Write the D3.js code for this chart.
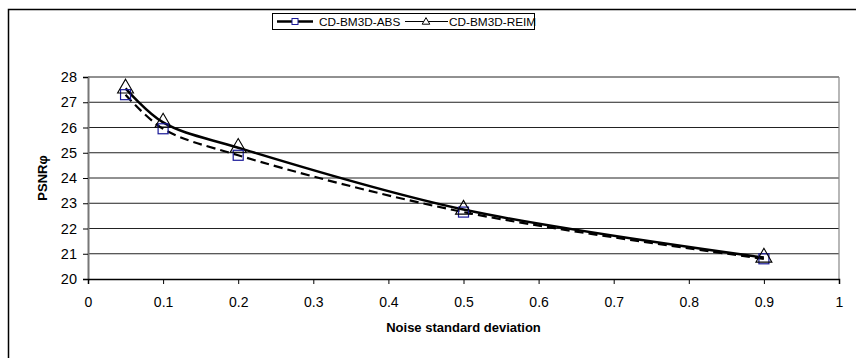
<!DOCTYPE html>
<html><head><meta charset="utf-8">
<script src="https://cdn.jsdelivr.net/npm/d3@7"></script>
<style>body{margin:0;background:#fff;}svg{display:block;font-family:"Liberation Sans",Arial,sans-serif;}</style>
</head><body><svg id="c" width="856" height="358"></svg>
<script>
const xValues = [0.05, 0.1, 0.2, 0.5, 0.9];
const absValues = [27.3, 25.95, 24.9, 22.65, 20.8];
const reimValues = [27.55, 26.2, 25.2, 22.75, 20.85];
const seriesNames = ["CD-BM3D-ABS", "CD-BM3D-REIM"];
const xTicks = [0, 0.1, 0.2, 0.3, 0.4, 0.5, 0.6, 0.7, 0.8, 0.9, 1];
const yTicks = [20, 21, 22, 23, 24, 25, 26, 27, 28];

const svg = d3.select("#c");
const x = d3.scaleLinear().domain([0, 1]).range([88, 839]);
const y = d3.scaleLinear().domain([20, 28]).range([279, 77]);

// outer frame
svg.append("path").attr("d", "M8.5,358 V9.5 H856").attr("fill", "none").attr("stroke", "#000").attr("stroke-width", 1.5);

// gridlines
svg.append("g").selectAll("line").data(yTicks.slice(1)).join("line")
  .attr("x1", x(0)).attr("x2", x(1)).attr("y1", d => y(d)).attr("y2", d => y(d))
  .attr("stroke", "#222").attr("stroke-width", 1);
// right border
svg.append("line").attr("x1", x(1)).attr("x2", x(1)).attr("y1", y(28)).attr("y2", y(20))
  .attr("stroke", "#888").attr("stroke-width", 1.2);

// axes
const yAxis = d3.axisLeft(y).tickValues(yTicks).tickSize(5).tickPadding(6).tickFormat(d3.format("d"));
const gy = svg.append("g").attr("transform", `translate(${x(0)},0)`).call(yAxis);
gy.select(".domain").attr("stroke", "#777").attr("stroke-width", 2);
gy.selectAll(".tick line").attr("stroke", "#000");
gy.selectAll("text").attr("font-size", 14.5).attr("fill", "#000").style("font-family", "Liberation Sans, Arial, sans-serif");

const xAxis = d3.axisBottom(x).tickValues(xTicks).tickSize(5).tickPadding(13).tickFormat(d => d === 0 || d === 1 ? String(d) : d.toFixed(1));
const gx = svg.append("g").attr("transform", `translate(0,${y(20)})`).call(xAxis);
gx.select(".domain").attr("stroke", "#000").attr("stroke-width", 1.5);
gx.selectAll(".tick line").attr("stroke", "#000");
gx.selectAll("text").attr("font-size", 14).attr("fill", "#000").style("font-family", "Liberation Sans, Arial, sans-serif");

// titles
svg.append("text").attr("x", (x(0) + x(1)) / 2).attr("y", 332).attr("text-anchor", "middle")
  .attr("font-size", 13).attr("font-weight", "bold").text("Noise standard deviation");
svg.append("text").attr("transform", `translate(47,${(y(20) + y(28)) / 2}) rotate(-90)`).attr("text-anchor", "middle")
  .attr("font-size", 13).attr("font-weight", "bold").text("PSNRφ");

// lines
const line = d3.line().curve(d3.curveCatmullRom.alpha(0.5)).x(d => x(d[0])).y(d => y(d[1]));
const absData = xValues.map((v, i) => [v, absValues[i]]);
const reimData = xValues.map((v, i) => [v, reimValues[i]]);
svg.append("path").attr("d", line(absData)).attr("fill", "none").attr("stroke", "#000")
  .attr("stroke-width", 2.2).attr("stroke-dasharray", "9,5");
svg.append("path").attr("d", line(reimData)).attr("fill", "none").attr("stroke", "#000").attr("stroke-width", 2.5);

// markers
svg.append("g").selectAll("rect").data(absData).join("rect")
  .attr("x", d => x(d[0]) - 5).attr("y", d => y(d[1]) - 5).attr("width", 10).attr("height", 10)
  .attr("fill", "none").attr("stroke", "#1a1a99").attr("stroke-width", 1.2);
const tri = d3.symbol().type(d3.symbolTriangle).size(110);
svg.append("g").selectAll("path").data(reimData).join("path")
  .attr("transform", d => `translate(${x(d[0])},${y(d[1])})`).attr("d", tri())
  .attr("fill", "none").attr("stroke", "#000").attr("stroke-width", 1.1);

// legend
const lg = svg.append("g");
lg.append("rect").attr("x", 272.5).attr("y", 13.5).attr("width", 262).attr("height", 16)
  .attr("fill", "#fff").attr("stroke", "#000").attr("stroke-width", 1);
lg.append("line").attr("x1", 277).attr("x2", 313).attr("y1", 21.5).attr("y2", 21.5).attr("stroke", "#000").attr("stroke-width", 2.5);
lg.append("rect").attr("x", 292).attr("y", 18.5).attr("width", 6).attr("height", 6).attr("fill", "#fff").attr("stroke", "#1a1a99").attr("stroke-width", 1);
lg.append("text").attr("x", 319).attr("y", 26).attr("font-size", 11.8).text(seriesNames[0]);
lg.append("line").attr("x1", 405).attr("x2", 448).attr("y1", 21.5).attr("y2", 21.5).attr("stroke", "#000").attr("stroke-width", 1.2);
lg.append("path").attr("transform", "translate(426,22)").attr("d", d3.symbol().type(d3.symbolTriangle).size(25)()).attr("fill", "#fff").attr("stroke", "#000").attr("stroke-width", 1);
lg.append("text").attr("x", 449).attr("y", 26).attr("font-size", 11.8).text(seriesNames[1]);
</script></body></html>
